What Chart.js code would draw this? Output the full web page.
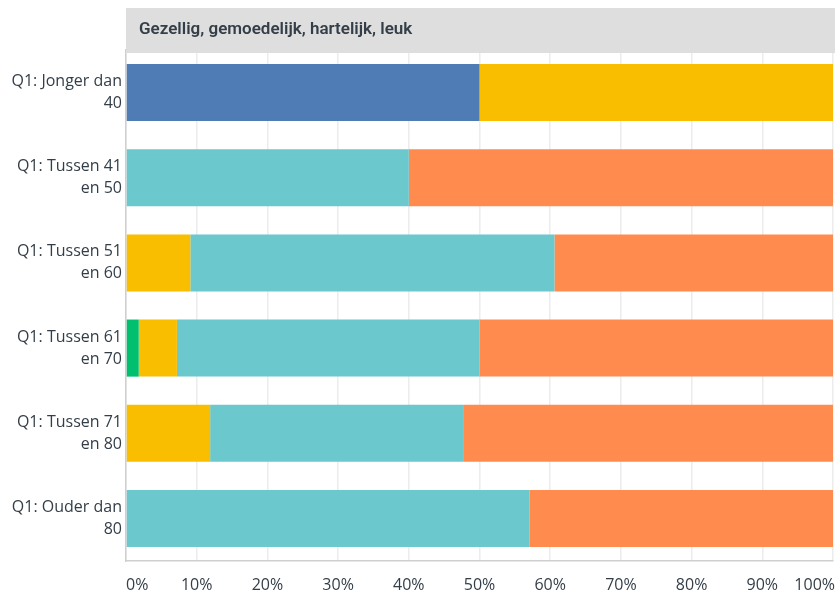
<!DOCTYPE html>
<html lang="nl">
<head>
<meta charset="UTF-8">
<title>Gezellig, gemoedelijk, hartelijk, leuk</title>
<script src="https://cdn.jsdelivr.net/npm/chart.js"></script>
<style>
  html, body { margin: 0; padding: 0; background: #fff; }
  #wrap { width: 835px; height: 598px; position: relative; }
</style>
</head>
<body>
<div id="wrap"><canvas id="chart"></canvas></div>
<script>
// Data
const title = 'Gezellig, gemoedelijk, hartelijk, leuk';
const categories = [
  ['Q1: Jonger dan', '40'],
  ['Q1: Tussen 41', 'en 50'],
  ['Q1: Tussen 51', 'en 60'],
  ['Q1: Tussen 61', 'en 70'],
  ['Q1: Tussen 71', 'en 80'],
  ['Q1: Ouder dan', '80']
];
const seriesNames = ['Groen', 'Blauw', 'Geel', 'Turkoois', 'Oranje'];
const greenVals  = [0, 0, 0, 1.8, 0, 0];
const blueVals   = [50, 0, 0, 0, 0, 0];
const yellowVals = [50, 0, 9.1, 5.4, 11.9, 0];
const tealVals   = [0, 40, 51.5, 42.8, 35.9, 57.1];
const orangeVals = [0, 60, 39.4, 50, 52.2, 42.9];
const xTicks = [0, 10, 20, 30, 40, 50, 60, 70, 80, 90, 100];

const colors = ['#00bf6f', '#507cb6', '#f9be00', '#6bc8cd', '#ff8b4f'];
const textColor = '#333e48';
const labelFont = 'Open Sans';

// grey header band with the question title, plus the edge tick labels kept inside the plot
const headerBand = {
  id: 'headerBand',
  beforeDatasetsDraw(chart) {
    const { ctx, chartArea } = chart;
    ctx.save();
    ctx.fillStyle = '#dedede';
    ctx.fillRect(chartArea.left, 8, chart.width - chartArea.left, chartArea.top + 3 - 8);
    ctx.fillStyle = textColor;
    ctx.font = '600 17px Roboto';
    ctx.textBaseline = 'middle';
    ctx.textAlign = 'left';
    ctx.fillText(title, chartArea.left + 13, 30);
    ctx.restore();
  },
  afterDraw(chart) {
    const { ctx } = chart;
    const x = chart.scales.x;
    const ref = x._labelItems ? x._labelItems[1] : null;
    const y = ref ? ref.options.translation[1] + ref.textOffset : chart.chartArea.bottom + 25;
    const first = xTicks[0], last = xTicks[xTicks.length - 1];
    ctx.save();
    ctx.fillStyle = textColor;
    ctx.font = '16px ' + labelFont;
    ctx.textBaseline = ref ? ref.options.textBaseline : 'middle';
    ctx.textAlign = 'left';
    ctx.fillText(first + '%', x.getPixelForValue(first), y);
    ctx.textAlign = 'right';
    ctx.fillText(last + '%', x.getPixelForValue(last) + 2, y);
    ctx.restore();
  }
};

const datasets = [greenVals, blueVals, yellowVals, tealVals, orangeVals].map((vals, i) => ({
  label: seriesNames[i],
  data: vals,
  backgroundColor: colors[i],
  borderWidth: 0,
  categoryPercentage: 1,
  barPercentage: 0.67
}));

new Chart(document.getElementById('chart'), {
  type: 'bar',
  data: { labels: categories, datasets: datasets },
  plugins: [headerBand],
  options: {
    indexAxis: 'y',
    responsive: true,
    maintainAspectRatio: false,
    animation: false,
    layout: { padding: { top: 50, right: 2, left: 0, bottom: 0 } },
    plugins: {
      legend: { display: false },
      tooltip: { enabled: false }
    },
    scales: {
      x: {
        stacked: true,
        min: 0,
        max: 100,
        afterBuildTicks(scale) {
          scale.ticks = xTicks.map(v => ({ value: v }));
        },
        afterFit(scale) {
          scale.paddingRight = 0;
          scale.paddingLeft = 0;
          scale.height = 37;
        },
        grid: { color: '#ececec', lineWidth: 1.5, drawTicks: false },
        border: { color: '#cfcfcf', width: 1.5 },
        ticks: {
          color: textColor,
          font: { family: labelFont, size: 16 },
          padding: 15,
          maxRotation: 0,
          autoSkip: false,
          callback: (v) => (v === xTicks[0] || v === xTicks[xTicks.length - 1]) ? '' : v + '%'
        }
      },
      y: {
        stacked: true,
        afterFit(scale) { scale.width = 126; },
        grid: { display: false, drawTicks: false },
        border: { color: '#cfcfcf', width: 1.5 },
        ticks: {
          color: textColor,
          font: { family: labelFont, size: 16, lineHeight: 1.375 },
          padding: 4
        }
      }
    }
  }
});
</script>
</body>
</html>
